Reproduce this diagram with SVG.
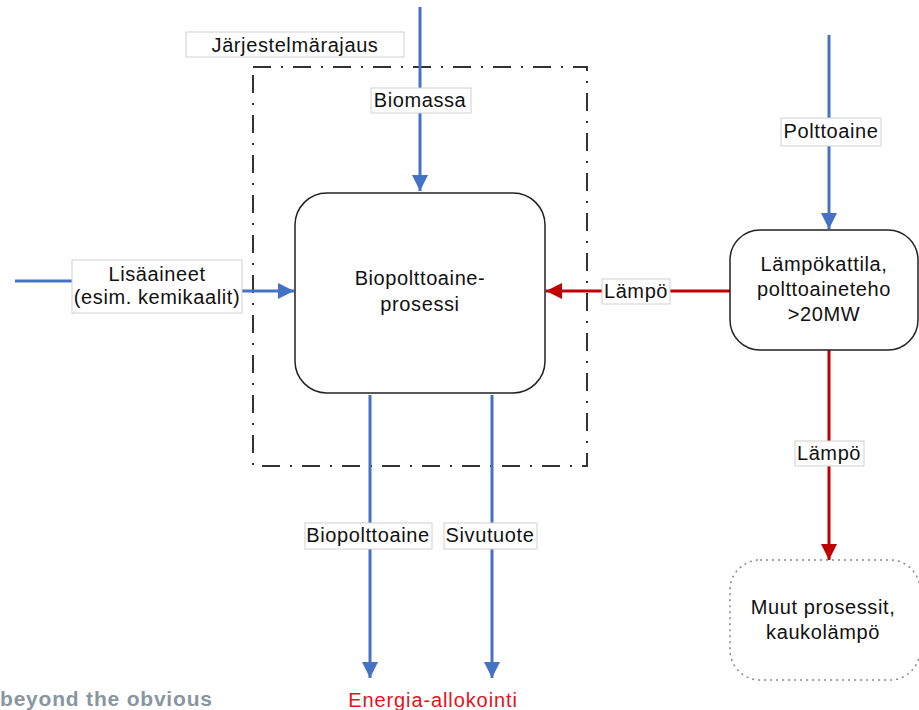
<svg xmlns="http://www.w3.org/2000/svg" width="919" height="710" viewBox="0 0 919 710">
<style>
text{font-family:"Liberation Sans",Arial,sans-serif;font-size:20px;letter-spacing:0.6px;fill:#111;text-anchor:middle}
.lbl{fill:#fff;stroke:#d0d0d0;stroke-width:1}
.node{fill:#fff;stroke:#222;stroke-width:1.5}
.blue{stroke:#4472C4;stroke-width:3;fill:none}
.red{stroke:#C00000;stroke-width:3;fill:none}
</style>
<defs>
<marker id="ab" markerUnits="userSpaceOnUse" markerWidth="18" markerHeight="18" refX="16" refY="8" orient="auto"><path d="M0,0 L16,8 L0,16 z" fill="#4472C4"/></marker>
<marker id="ar" markerUnits="userSpaceOnUse" markerWidth="18" markerHeight="18" refX="16" refY="8" orient="auto"><path d="M0,0 L16,8 L0,16 z" fill="#C00000"/></marker>
</defs>
<rect width="919" height="710" fill="#fff"/>
<g id="boundary">
<rect x="253" y="67" width="334" height="399" fill="none" stroke="#333" stroke-width="2" stroke-dasharray="18 10 2 10"/>
</g>
<g id="connectors">
<line class="blue" x1="420" y1="7" x2="420" y2="191" marker-end="url(#ab)"/>
<path class="blue" d="M15 281 H157 V291 H294" marker-end="url(#ab)"/>
<line class="blue" x1="829" y1="35" x2="829" y2="229" marker-end="url(#ab)"/>
<line class="red" x1="730" y1="291" x2="546" y2="291" marker-end="url(#ar)"/>
<line class="red" x1="829" y1="350" x2="829" y2="560" marker-end="url(#ar)"/>
<line class="blue" x1="370" y1="395" x2="370" y2="678" marker-end="url(#ab)"/>
<line class="blue" x1="492" y1="395" x2="492" y2="678" marker-end="url(#ab)"/>
</g>
<g id="main">
<rect class="node" x="295" y="193" width="250" height="200" rx="32"/>
<text x="420" y="285">Biopolttoaine-</text>
<text x="420" y="311">prosessi</text>
</g>
<g id="boiler">
<rect class="node" x="730" y="230" width="188" height="120" rx="30"/>
<text x="824" y="271">Lämpökattila,</text>
<text x="824" y="296">polttoaineteho</text>
<text x="824" y="321">&gt;20MW</text>
</g>
<g id="other">
<rect x="730" y="560" width="190" height="120" rx="30" fill="#fff" stroke="#888" stroke-width="1.5" stroke-dasharray="2 4"/>
<text x="823" y="614">Muut prosessit,</text>
<text x="823" y="639">kaukolämpö</text>
</g>
<g id="labels">
<rect class="lbl" x="186" y="32" width="218" height="25"/>
<text x="295" y="52">Järjestelmärajaus</text>
<rect class="lbl" x="371" y="88" width="100" height="25"/>
<text x="420" y="107">Biomassa</text>
<rect class="lbl" x="72" y="260" width="170" height="53"/>
<text x="157" y="281">Lisäaineet</text>
<text x="157" y="304">(esim. kemikaalit)</text>
<rect class="lbl" x="781" y="118" width="100" height="28"/>
<text x="831" y="138">Polttoaine</text>
<rect class="lbl" x="602" y="279" width="68" height="25"/>
<text x="636" y="298">Lämpö</text>
<rect class="lbl" x="795" y="441" width="69" height="25"/>
<text x="829" y="460">Lämpö</text>
<rect class="lbl" x="305" y="523" width="127" height="26"/>
<text x="368" y="542">Biopolttoaine</text>
<rect class="lbl" x="444" y="523" width="93" height="26"/>
<text x="490" y="542">Sivutuote</text>
</g>
<g id="footer">
<text x="0" y="706" style="text-anchor:start;font-weight:bold;fill:#8896a2;font-size:21px;letter-spacing:0.8px">beyond the obvious</text>
<text x="433" y="707" style="fill:#e8101a;font-size:20px;letter-spacing:0.9px">Energia-allokointi</text>
</g>
</svg>
